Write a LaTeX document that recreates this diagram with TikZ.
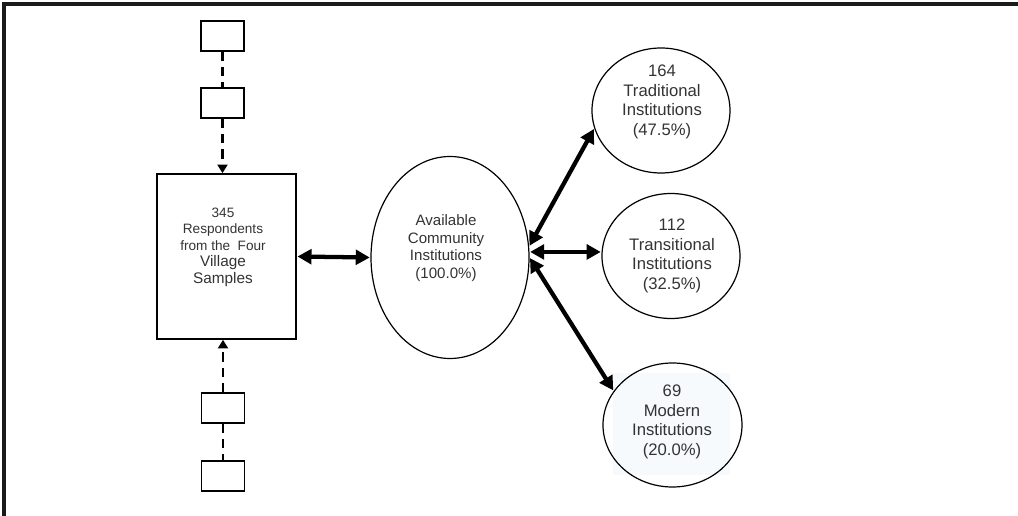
\documentclass[tikz,border=0pt]{standalone}
\usepackage{fontspec}
\setmainfont{Liberation Sans}
\usetikzlibrary{arrows.meta,shapes.geometric}
\definecolor{txt}{HTML}{333333}
\definecolor{framecol}{HTML}{1A1A1A}
\definecolor{paleblue}{RGB}{246,250,253}
\begin{document}
\begin{tikzpicture}[x=0.75pt,y=-0.75pt,
  smallbox/.style={draw=black, line width=1.2pt, minimum width=32.25pt, minimum height=22.5pt, inner sep=0pt},
  mainbox/.style={draw=black, line width=1.2pt, minimum width=104.25pt, minimum height=123.75pt, inner sep=0pt},
  oval/.style={draw=black, line width=0.9pt, ellipse, inner sep=0pt},
  lbl/.style={text=txt, align=center, inner sep=0pt},
  boxfont/.style={font=\fontsize{10.2}{12.4}\selectfont},
  ovalfont/.style={font=\fontsize{11.3}{13.1}\selectfont},
  circfont/.style={font=\fontsize{12.5}{14.6}\selectfont},
  dashlink/.style={line width=1.8pt, dash pattern=on 7pt off 4.5pt},
  dasharrow/.style={dashlink, -{Triangle[length=6.5pt,width=7.5pt]}},
  bigarrow/.style={line width=3.2pt, {Triangle[length=10.5pt,width=11pt]}-{Triangle[length=10.5pt,width=11pt]}, shorten <=0.5pt, shorten >=0.5pt}
]
\useasboundingbox (0,0) rectangle (1018,516);
% frame (top and left edges only)
\draw[framecol, line width=2.4pt] (4,516) -- (4,4) -- (1018,4);

% small boxes
\node[smallbox] (b1) at (222.5,36) {};
\node[smallbox] (b2) at (222.5,103) {};
\node[smallbox] (b3) at (223,408) {};
\node[smallbox] (b4) at (223,476) {};

% main box
\node[mainbox] (B) at (226.5,256.5) {};
\node[lbl, boxfont] (Bt) at (223,247) {345\\ Respondents\\ from the\ \ Four\\ {\fontsize{11.5}{12.4}\selectfont Village}\\ {\fontsize{11.5}{12.4}\selectfont Samples}};

% central ellipse
\node[oval, minimum width=118.5pt, minimum height=151.5pt] (E) at (450,257.5) {};
\node[lbl, ovalfont] (Et) at (446,248) {Available\\ Community\\ Institutions\\ (100.0\%)};

% right circles
\node[oval, minimum width=103.5pt, minimum height=93.75pt] (C1) at (661,110.5) {};
\node[lbl, circfont] (C1t) at (662,102) {164\\ Traditional\\ Institutions\\ (47.5\%)};

\node[oval, minimum width=103.5pt, minimum height=93.75pt] (C2) at (671,256) {};
\node[lbl, circfont] (C2t) at (672,256) {112\\ Transitional\\ Institutions\\ (32.5\%)};

\fill[paleblue] (613,373) rectangle (730,475);
\node[oval, minimum width=104.25pt, minimum height=93pt] (C3) at (672.5,425) {};
\node[lbl, circfont] (C3t) at (672,422) {69\\ Modern\\ Institutions\\ (20.0\%)};

% dashed connectors
\draw[dashlink] (b1.south) -- (b2.north);
\draw[dasharrow] (b2.south) -- (B.north -| b2.south);
\draw[dasharrow] (b3.north) -- (B.south -| b3.north);
\draw[dashlink] (b3.south) -- (b4.north);

% thick double arrows
\draw[bigarrow] (B.east) -- (E.west);
\draw[bigarrow] (E.8) -- (C1.195);
\draw[bigarrow] (E.4) -- (E.4 -| C2.west);
\draw[bigarrow] (E.0) -- (C3.150);
\end{tikzpicture}
\end{document}
